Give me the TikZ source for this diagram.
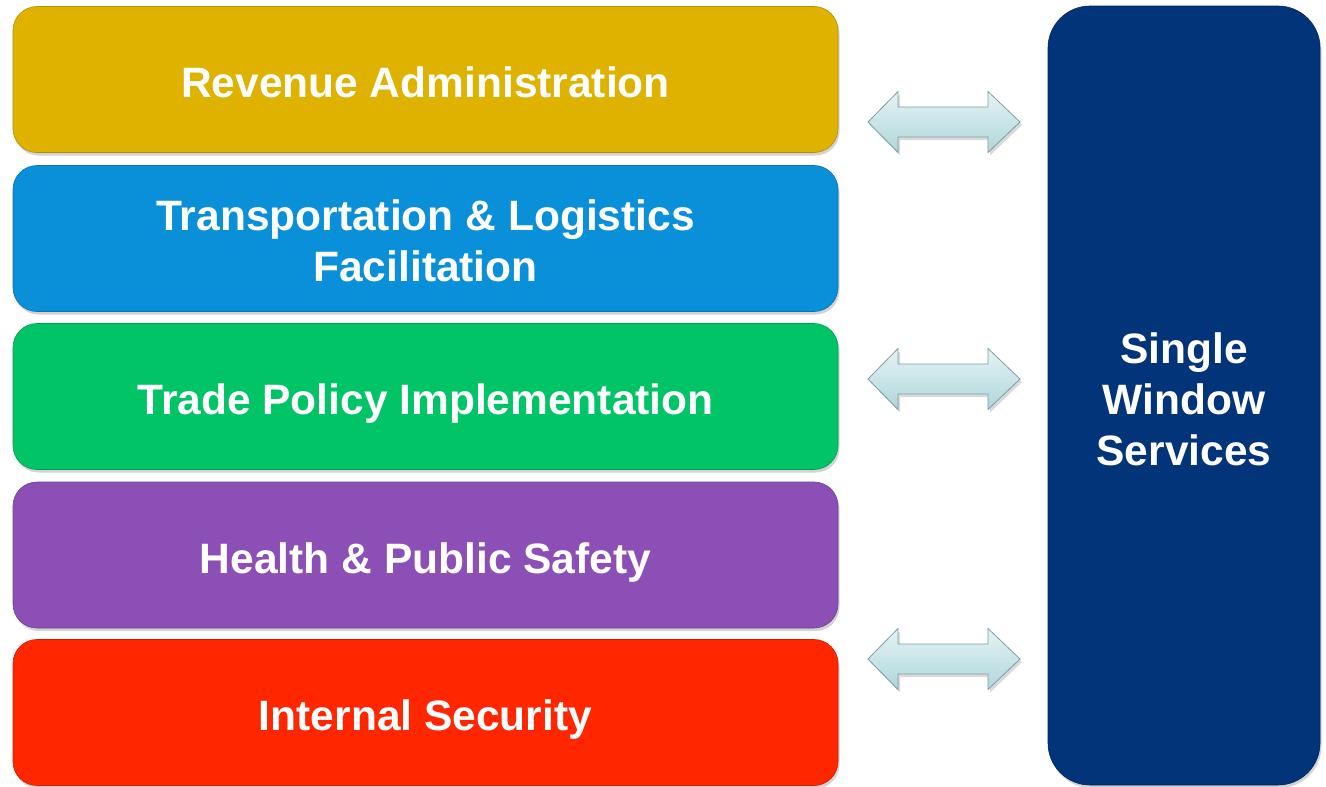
\documentclass[tikz,border=0pt]{standalone}
\usepackage{fontspec}
\setmainfont{Liberation Sans}
\usetikzlibrary{shadows}
\definecolor{cYellow}{HTML}{DFB200}
\definecolor{cBlue}{HTML}{0A90D8}
\definecolor{cGreen}{HTML}{00C466}
\definecolor{cPurple}{HTML}{8B4FB5}
\definecolor{cRed}{HTML}{FF2600}
\definecolor{cNavy}{HTML}{023479}
\definecolor{cArrTop}{HTML}{E4F4F6}
\definecolor{cArrBot}{HTML}{AED6DA}
\definecolor{cArrEdge}{HTML}{7F9DA0}
\tikzset{
  boxtxt/.style={text=white, font=\bfseries\fontsize{42.5}{51}\selectfont, align=center, inner sep=0pt},
  onetxt/.style={boxtxt, text depth=0pt, yshift=-3pt},
  layerbox/.style={rectangle, rounded corners=24pt, minimum width=825pt, minimum height=146pt,
    inner sep=0pt, draw=#1!80!black, line width=0.6pt, fill=#1,
    drop shadow={opacity=0.35, shadow xshift=1.5pt, shadow yshift=-3pt}},
  swbox/.style={rectangle, rounded corners=42pt, minimum width=272pt, minimum height=779pt,
    inner sep=0pt, draw=cNavy!70!black, line width=0.6pt, fill=cNavy,
    drop shadow={opacity=0.35, shadow xshift=1.5pt, shadow yshift=-3pt}},
  arrowshape/.style={draw=cArrEdge, line width=0.8pt, top color=cArrTop, bottom color=cArrBot,
    drop shadow={opacity=0.3, shadow xshift=2pt, shadow yshift=-3pt}},
  dblarr/.pic={
    \path[arrowshape] (-76,0) -- (-46,-30.5) -- (-46,-15) -- (44,-15) -- (44,-30.5) -- (76,0)
      -- (44,30.5) -- (44,15) -- (-46,15) -- (-46,30.5) -- cycle;
  }
}
\begin{document}
\begin{tikzpicture}[x=1pt,y=-1pt]
\useasboundingbox (0,0) rectangle (1326,787);
\node[layerbox=cYellow, label={[onetxt]center:Revenue Administration}] (rev) at (425.5,79.5) {};
\node[layerbox=cBlue, label={[boxtxt, yshift=-2pt]center:Transportation \& Logistics\\Facilitation}] (trans) at (425.5,238.5) {};
\node[layerbox=cGreen, label={[onetxt]center:Trade Policy Implementation}] (trade) at (425.5,396.5) {};
\node[layerbox=cPurple, label={[onetxt]center:Health \& Public Safety}] (health) at (425.5,555) {};
\node[layerbox=cRed, label={[onetxt]center:Internal Security}] (sec) at (425.5,712.5) {};
\node[swbox, label={[boxtxt, yshift=-4pt]center:Single\\Window\\Services}] (sw) at (1184,395.5) {};
\pic at (944,122) {dblarr};
\pic at (944,379) {dblarr};
\pic at (944,659) {dblarr};
\end{tikzpicture}
\end{document}
